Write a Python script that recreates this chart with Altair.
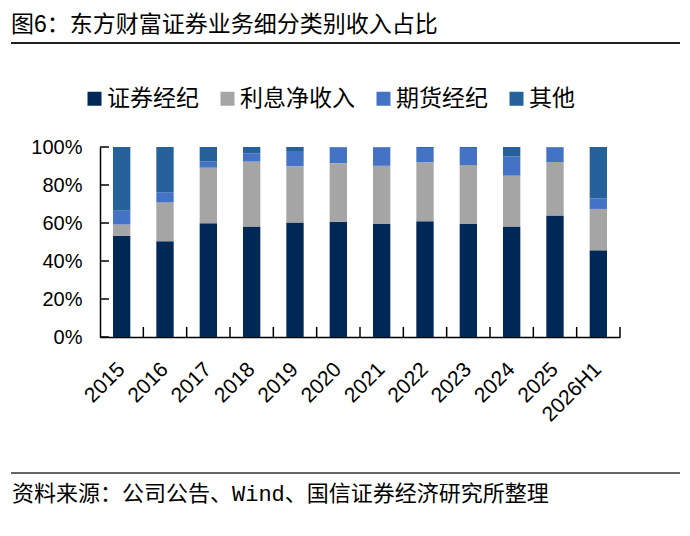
import altair as alt
import pandas as pd

years = ["2015", "2016", "2017", "2018", "2019", "2020", "2021", "2022", "2023", "2024", "2025", "2026H1"]
series_names = ["证券经纪", "利息净收入", "期货经纪", "其他"]
brokerage = [53.2, 50.4, 59.9, 58.1, 60.2, 60.6, 59.5, 60.9, 59.5, 58.1, 63.9, 45.6]
interest = [6.0, 20.4, 29.2, 34.2, 29.6, 30.9, 30.6, 31.0, 31.0, 26.8, 28.2, 21.8]
futures = [7.2, 5.4, 3.2, 4.4, 8.1, 8.2, 9.6, 7.6, 9.0, 10.2, 7.6, 5.5]
other = [33.6, 23.8, 7.7, 3.3, 2.1, 0.3, 0.3, 0.5, 0.5, 4.9, 0.3, 27.1]
colors = ["#002856", "#a5a5a5", "#4472c4", "#25619a"]
y_ticks = [0, 0.2, 0.4, 0.6, 0.8, 1.0]
title_text = "图6：东方财富证券业务细分类别收入占比"
footer_text = "资料来源：公司公告、Wind、国信证券经济研究所整理"

rows = []
for i, yr in enumerate(years):
    for k, (name, vals) in enumerate(zip(series_names, [brokerage, interest, futures, other])):
        rows.append({"year": yr, "series": name, "value": vals[i], "ord": k})
df = pd.DataFrame(rows)

x_scale = alt.Scale(paddingInner=0, paddingOuter=0)
x_axis = alt.Axis(title=None, labelAngle=315, labelAlign="right", labelBaseline="middle",
                  labelFontSize=21, labelFont="Liberation Sans", labelColor="#000",
                  labelPadding=29, ticks=False, tickSize=0, grid=False,
                  domainColor="#000", domainWidth=1.5)
y_scale = alt.Scale(domain=[0, 1], nice=False)
y_axis = alt.Axis(title=None, values=y_ticks, format=".0%", labelFontSize=20,
                  labelFont="Liberation Sans", labelColor="#000", labelPadding=18,
                  ticks=False, tickSize=0, grid=False, domainColor="#000", domainWidth=1.5)

bars = alt.Chart(df).mark_bar(width=alt.RelativeBandSize(0.4)).encode(
    x=alt.X("year:N", sort=years, scale=x_scale, axis=x_axis),
    y=alt.Y("value:Q", stack="normalize", scale=y_scale, axis=y_axis),
    color=alt.Color("series:N", sort=series_names,
                    scale=alt.Scale(domain=series_names, range=colors),
                    legend=alt.Legend(title=None, orient="none", legendX=-17, legendY=-60,
                                      direction="horizontal", symbolType="square",
                                      symbolSize=196, symbolStrokeWidth=0,
                                      labelFontSize=23, labelFont="Noto Sans CJK SC",
                                      labelColor="#000", labelOffset=1, columnPadding=17,
                                      padding=0)),
    order=alt.Order("ord:Q", sort="ascending"),
)

ytick = alt.Chart(pd.DataFrame({"v": y_ticks})).mark_rule(color="#000", strokeWidth=1.5).encode(
    y=alt.Y("v:Q", scale=y_scale, axis=y_axis),
    x=alt.value(0), x2=alt.value(9),
)

xtick = alt.Chart(pd.DataFrame({"year": years})).mark_rule(color="#000", strokeWidth=1.5).encode(
    x=alt.X("year:N", sort=years, scale=x_scale, axis=x_axis, bandPosition=1),
    y=alt.Y(datum=0, scale=y_scale, axis=y_axis),
    y2=alt.Y2(datum=0.053),
)

one = pd.DataFrame({"t": [title_text], "f": [footer_text]})

title = alt.Chart(one).mark_text(align="left", baseline="middle", fontSize=23,
                                 font="Liberation Sans, Noto Sans CJK SC", color="#000").encode(
    text="t:N", x=alt.value(-89), y=alt.value(-122))

title_rule = alt.Chart(one).mark_rule(color="#222", strokeWidth=2).encode(
    x=alt.value(-89), x2=alt.value(580), y=alt.value(-104))

footer_rule = alt.Chart(one).mark_rule(color="#333", strokeWidth=1.5).encode(
    x=alt.value(-89), x2=alt.value(580), y=alt.value(326))

footer = alt.Chart(one).mark_text(align="left", baseline="top", fontSize=22,
                                  font="Liberation Mono, Noto Sans CJK SC", color="#000").encode(
    text="f:N", x=alt.value(-88), y=alt.value(337))

chart = alt.layer(bars, ytick, xtick, title, title_rule, footer_rule, footer).properties(
    width=520, height=190,
    autosize=alt.AutoSizeParams(type="none"),
    padding={"left": 92, "top": 139, "right": 62, "bottom": 180},
    background="white",
).configure_view(stroke=None)

chart.save("out.html", embed_options={"renderer": "svg", "actions": False})
